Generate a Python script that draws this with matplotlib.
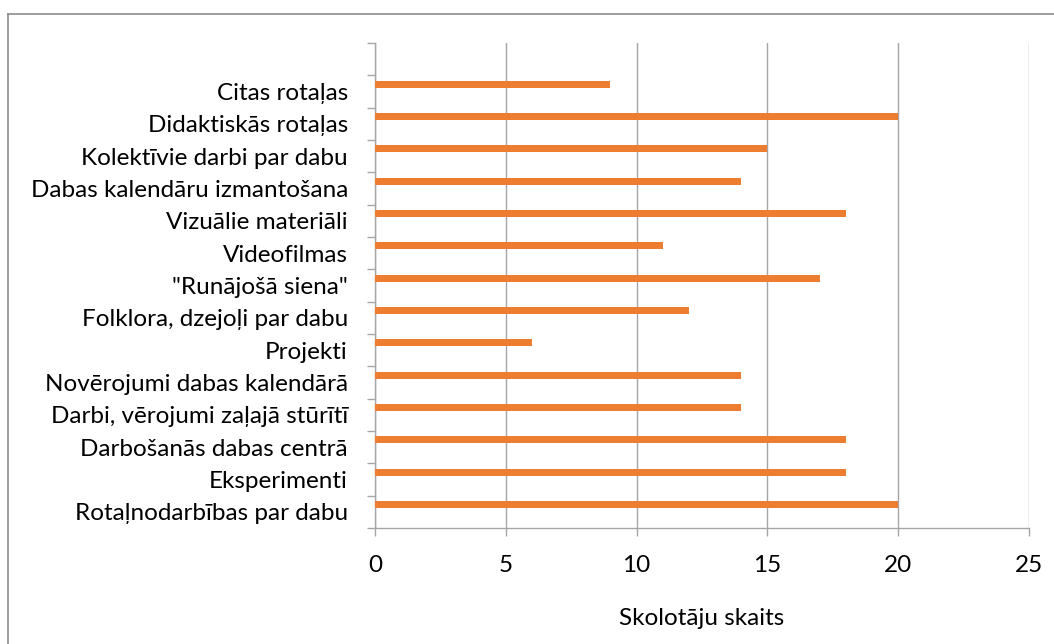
import matplotlib
matplotlib.use("Agg")
import matplotlib.pyplot as plt
from matplotlib.lines import Line2D
from matplotlib.ticker import MultipleLocator, FixedLocator

categories = [
    "Rotaļnodarbības par dabu",
    "Eksperimenti",
    "Darbošanās dabas centrā",
    "Darbi, vērojumi zaļajā stūrītī",
    "Novērojumi dabas kalendārā",
    "Projekti",
    "Folklora, dzejoļi par dabu",
    "\"Runājošā siena\"",
    "Videofilmas",
    "Vizuālie materiāli",
    "Dabas kalendāru izmantošana",
    "Kolektīvie darbi par dabu",
    "Didaktiskās rotaļas",
    "Citas rotaļas",
    "",
]
values = [20, 18, 18, 14, 14, 6, 12, 17, 11, 18, 14, 15, 20, 9]
xlabel = "Skolotāju skaits"

plt.rcParams['font.family'] = ['Lato', 'DejaVu Sans']

W, H = 1054, 644
fig = plt.figure(figsize=(W / 100, H / 100), dpi=100)
x0, x1, ytop, ybot = 375, 1029, 43, 528
ax = fig.add_axes([x0 / W, (H - ybot) / H, (x1 - x0) / W, (ybot - ytop) / H])

orange = "#ED7D31"
grid = "#A6A6A6"
fs = 17.5

ypos = [i + 0.225 for i in range(len(values))]
ax.barh(ypos, values, height=0.21, color=orange, zorder=3)

ax.set_xlim(0, 25)
ax.set_ylim(-0.5, len(categories) - 0.5)
ax.xaxis.set_major_locator(MultipleLocator(5))
ax.xaxis.grid(True, color=grid, linewidth=1.0, zorder=0)
ax.set_yticks(range(len(categories)))
ax.set_yticklabels(categories, fontsize=fs, color="#000000")
ax.tick_params(axis='y', which='major', length=0, pad=19.5)
ax.yaxis.set_minor_locator(FixedLocator([i - 0.5 for i in range(len(categories) + 1)]))
ax.tick_params(axis='y', which='minor', length=5.8, color=grid, width=1)
ax.tick_params(axis='x', length=5.8, color=grid, width=1, labelsize=fs, pad=14)
for s in ["top", "right"]:
    ax.spines[s].set_visible(False)
for s in ["left", "bottom"]:
    ax.spines[s].set_color(grid)
    ax.spines[s].set_linewidth(1.0)
ax.set_xlabel(xlabel, fontsize=fs, labelpad=23)

fig.add_artist(Line2D([7.5 / W, 7.5 / W], [0, 1 - 13.5 / H], transform=fig.transFigure, color="#8C8C8C", linewidth=1.2))
fig.add_artist(Line2D([7.5 / W, 1], [1 - 13.5 / H, 1 - 13.5 / H], transform=fig.transFigure, color="#8C8C8C", linewidth=1.2))

fig.savefig("out.png", dpi=100, facecolor="white")
